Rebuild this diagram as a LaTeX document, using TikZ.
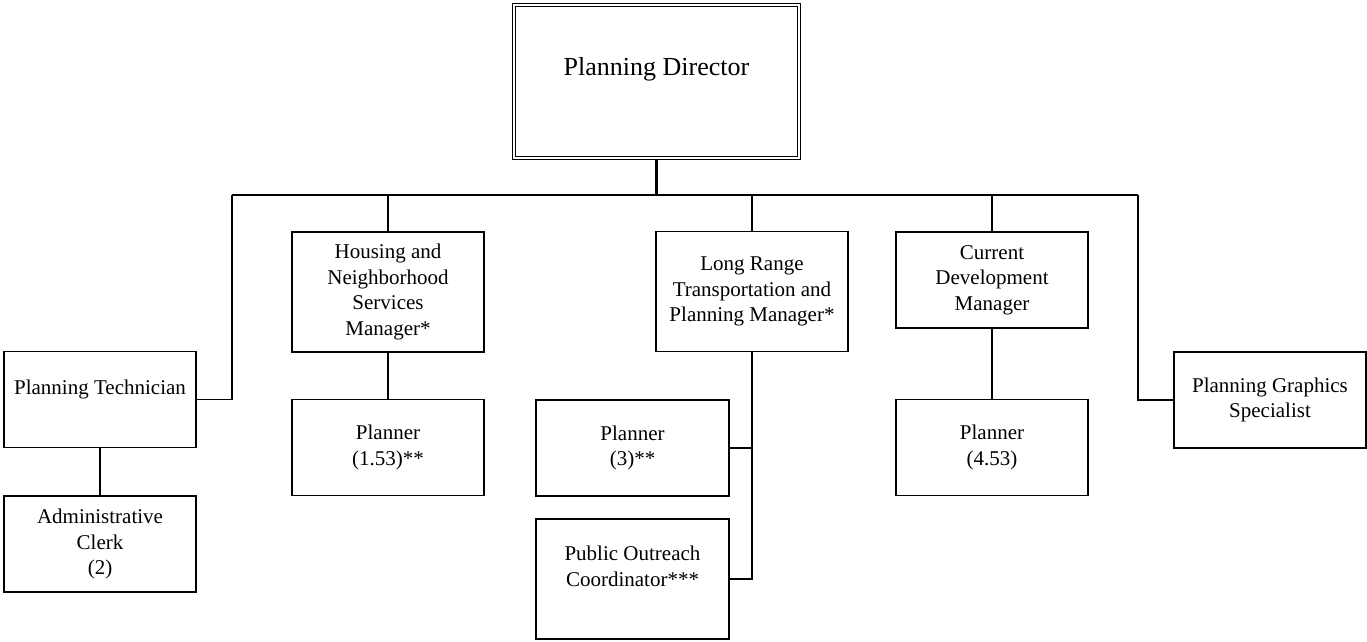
\documentclass[tikz,border=0pt]{standalone}
\usepackage{fontspec}
\setmainfont{Liberation Serif}
\usepackage{tikz}
\usetikzlibrary{positioning}

\tikzset{
  post/.style={draw,line width=1.3pt,rectangle,align=center,inner sep=0pt,
    minimum width=192pt,minimum height=96pt,font=\fontsize{21}{25.5}\selectfont},
  tallpost/.style={post,minimum height=120pt},
  link/.style={line width=1.3pt},
}

\begin{document}
\begin{tikzpicture}[x=1pt,y=-1pt]
\useasboundingbox (0,0) rectangle (1367,641);
\node[draw,double,double distance=2.2pt,line width=1.3pt,align=center,
  minimum width=285pt,minimum height=153pt,font=\fontsize{26}{31}\selectfont]
  (dir) at (656.5,81.5) {Planning Director\\~};
\coordinate (busL) at (232,195);
\coordinate (busR) at (1138,195);

\node[post] (tech) at (100,399.5) {Planning Technician\\~};
\node[post] (clerk) at (100,544) {Administrative\\Clerk\\(2)};
\node[tallpost] (housing) at (388,292) {Housing and\\Neighborhood\\Services\\Manager*};
\node[post] (plan1) at (388,447.5) {Planner\\(1.53)**};
\node[tallpost] (longrange) at (752,291.5) {Long Range\\Transportation and\\Planning Manager*};
\node[post,minimum width=193pt] (plan3) at (632.5,448) {Planner\\(3)**};
\node[tallpost,minimum width=193pt] (outreach) at (632.5,579) {Public Outreach\\Coordinator***\\~};
\node[post] (curdev) at (992,280) {Current\\Development\\Manager};
\node[post] (plan4) at (992,447.5) {Planner\\(4.53)};
\node[post] (graphics) at (1270,400) {Planning Graphics\\Specialist};

\draw[line width=3pt] (dir.south) -- (dir.south |- busL);
\draw[line width=1.6pt] (busL) -- (busR);
\draw[link] (tech.east) -| (busL);
\draw[link] (graphics.west) -| (busR);
\foreach \n in {housing,longrange,curdev} {
  \draw[link] (\n.north) -- (\n.north |- busL);
}
\draw[link] (tech) -- (clerk);
\draw[link] (housing) -- (plan1);
\draw[link] (curdev) -- (plan4);
\draw[link] (longrange.south) |- (outreach.east);
\draw[link] (plan3.east) -- (plan3.east -| longrange.south);
\end{tikzpicture}
\end{document}
